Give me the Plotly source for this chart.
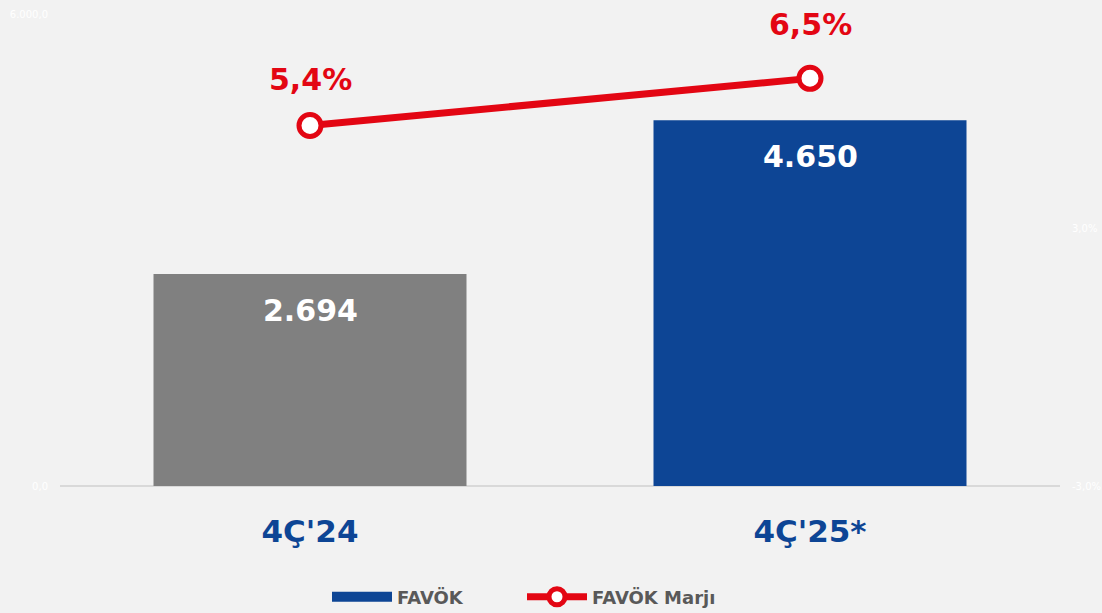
import plotly.graph_objects as go

# Data
periods = ["4Ç'24", "4Ç'25*"]
favok = [2694, 4650]
marj = [5.4, 6.5]
bar_colors = ["#808080", "#0d4595"]

left_ticks = [0, 6000]
left_ticktext = ["0,0", "6.000,0"]
right_ticks = [-3, 3]
right_ticktext = ["-3,0%", "3,0%"]

RED = "#e30613"
BLUE = "#0d4595"
FONT = "DejaVu Sans, Verdana, sans-serif"


def tr_int(v):
    return f"{v:,.0f}".replace(",", ".")


def tr_pct(v):
    return f"{v:.1f}".replace(".", ",") + "%"


fig = go.Figure()

fig.add_trace(go.Bar(
    x=periods, y=favok, name="FAVÖK",
    marker=dict(color=bar_colors, line=dict(width=0)),
    width=0.626, yaxis="y", showlegend=False,
))
# legend entry for the bars: a wide blue swatch
fig.add_trace(go.Scatter(
    x=[periods[0]], y=[None], name="FAVÖK", mode="lines",
    line=dict(color=BLUE, width=16), yaxis="y",
    legendwidth=120,
))

fig.add_trace(go.Scatter(
    x=periods, y=marj, name="FAVÖK Marjı", yaxis="y2",
    mode="lines+markers",
    line=dict(color=RED, width=7),
    marker=dict(size=22, color="white", line=dict(color=RED, width=5)),
))

# value labels
for p, v in zip(periods, favok):
    fig.add_annotation(x=p, y=v, xref="x", yref="y", text=f"<b>{tr_int(v)}</b>",
                       showarrow=False, yshift=-36,
                       font=dict(family=FONT, size=30, color="white"))
for p, v, s in zip(periods, marj, [46, 54]):
    fig.add_annotation(x=p, y=v, xref="x", yref="y2", text=f"<b>{tr_pct(v)}</b>",
                       showarrow=False, yshift=s,
                       font=dict(family=FONT, size=30, color=RED))

fig.update_layout(
    width=1102, height=613,
    margin=dict(l=60, r=42, t=14, b=127),
    paper_bgcolor="#f2f2f2", plot_bgcolor="#f2f2f2",
    bargap=0.374,
    barmode="overlay",
    xaxis=dict(
        tickfont=dict(family=FONT, size=31, color=BLUE, weight="bold"),
        showgrid=False, zeroline=False, showline=False, automargin=False,
        ticks="", ticklabelstandoff=24,
    ),
    yaxis=dict(
        range=[0, 6000], tickvals=left_ticks, ticktext=left_ticktext,
        tickfont=dict(family="DejaVu Sans", size=10, color="#ffffff"),
        showgrid=False, zeroline=True, zerolinecolor="#d9d9d9", zerolinewidth=2,
        showline=False, automargin=False, ticklabelstandoff=11,
    ),
    yaxis2=dict(
        range=[-3, 8], overlaying="y", side="right",
        tickvals=right_ticks, ticktext=right_ticktext,
        tickfont=dict(family="DejaVu Sans", size=10, color="#ffffff"),
        showgrid=False, zeroline=False, showline=False, automargin=False,
        ticklabelstandoff=11,
    ),
    legend=dict(
        orientation="h", x=0.267, xanchor="left",
        yref="container", y=0.026, yanchor="middle",
        font=dict(family=FONT, size=18, color="#595959", weight="bold"),
        itemwidth=60, bgcolor="rgba(0,0,0,0)",
        traceorder="normal",
    ),
)

fig.write_html("out.html", config={"displayModeBar": False},
               post_script="document.body.style.margin='0';")
